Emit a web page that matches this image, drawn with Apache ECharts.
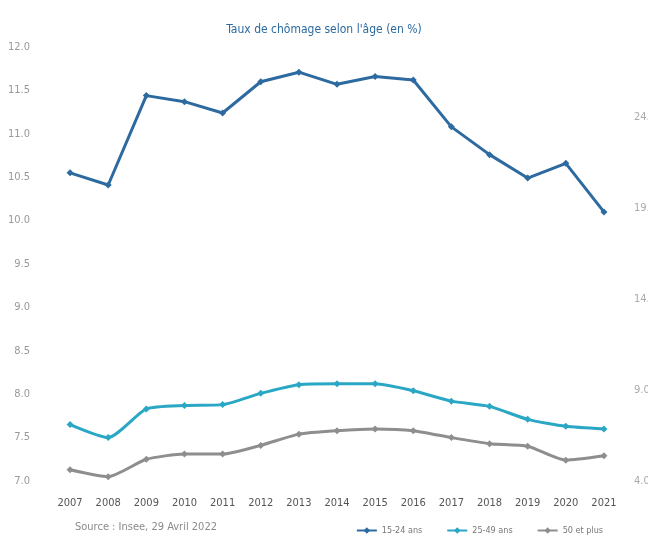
<!DOCTYPE html>
<html>
<head>
<meta charset="utf-8">
<script src="https://cdn.jsdelivr.net/npm/echarts@6/dist/echarts.min.js"></script>
<style>
html, body { margin: 0; padding: 0; background: #fff; }
#chart { width: 648px; height: 545px; }
</style>
</head>
<body>
<div id="chart"></div>
<script>
var years = ['2007','2008','2009','2010','2011','2012','2013','2014','2015','2016','2017','2018','2019','2020','2021'];
var jeunes = [10.55, 10.41, 11.44, 11.37, 11.24, 11.60, 11.71, 11.57, 11.66, 11.62, 11.08, 10.76, 10.49, 10.66, 10.10];
var adultes = [7.65, 7.50, 7.83, 7.87, 7.88, 8.01, 8.11, 8.12, 8.12, 8.04, 7.92, 7.86, 7.71, 7.63, 7.60];
var seniors = [7.13, 7.05, 7.25, 7.31, 7.31, 7.41, 7.54, 7.58, 7.60, 7.58, 7.50, 7.43, 7.40, 7.24, 7.29];
var leftTicks = [7.0, 12.0, 0.5];   // min, max, pas
var rightTicks = [4, 27.85, 5];

var myChart = echarts.init(document.getElementById('chart'));
var font = "'Liberation Sans Narrow', 'DejaVu Sans Condensed', 'Liberation Sans', sans-serif";

var option = {
    animation: false,
    title: {
        text: 'Taux de chômage selon l\'âge (en %)',
        left: 'center',
        top: 19,
        textStyle: { color: '#2c6aa0', fontSize: 12, fontWeight: 'normal', fontFamily: font }
    },
    graphic: [{
        type: 'text',
        left: 75,
        top: 522,
        style: { text: 'Source : Insee, 29 Avril 2022', fill: '#8a8a8a', font: '11px ' + font }
    }],
    legend: {
        right: 40,
        bottom: 5,
        itemGap: 24,
        itemWidth: 20,
        itemHeight: 8,
        textStyle: { color: '#777', fontSize: 9, fontFamily: font },
        data: ['15-24 ans', '25-49 ans', '50 et plus']
    },
    grid: { left: 51, right: 25, top: 47, bottom: 64, outerBoundsMode: 'none' },
    xAxis: {
        type: 'category',
        data: years,
        axisLine: { show: false },
        axisTick: { show: false },
        axisLabel: { color: '#555', fontSize: 11, fontFamily: font, margin: 17 }
    },
    yAxis: [{
        type: 'value',
        min: leftTicks[0],
        max: leftTicks[1],
        interval: leftTicks[2],
        splitLine: { show: false },
        axisLabel: {
            color: '#999', fontSize: 11, fontFamily: font, margin: 21,
            formatter: function (v) { return v.toFixed(1); }
        }
    }, {
        type: 'value',
        position: 'right',
        min: rightTicks[0],
        max: rightTicks[1],
        interval: rightTicks[2],
        splitLine: { show: false },
        axisLabel: {
            color: '#aaa', fontSize: 11, fontFamily: font, margin: 11, showMaxLabel: false,
            formatter: function (v) { return v.toFixed(1); }
        }
    }],
    series: [{
        name: '15-24 ans',
        type: 'line',
        data: jeunes,
        symbol: 'diamond',
        symbolSize: 7,
        lineStyle: { width: 3, color: '#2c6aa0' },
        itemStyle: { color: '#2c6aa0' }
    }, {
        name: '25-49 ans',
        type: 'line',
        data: adultes,
        smooth: 0.2,
        symbol: 'diamond',
        symbolSize: 7,
        lineStyle: { width: 3, color: '#2aa7c4' },
        itemStyle: { color: '#2aa7c4' }
    }, {
        name: '50 et plus',
        type: 'line',
        data: seniors,
        smooth: 0.2,
        symbol: 'diamond',
        symbolSize: 7,
        lineStyle: { width: 3, color: '#8e8e8e' },
        itemStyle: { color: '#8e8e8e' }
    }]
};
myChart.setOption(option);
</script>
</body>
</html>
